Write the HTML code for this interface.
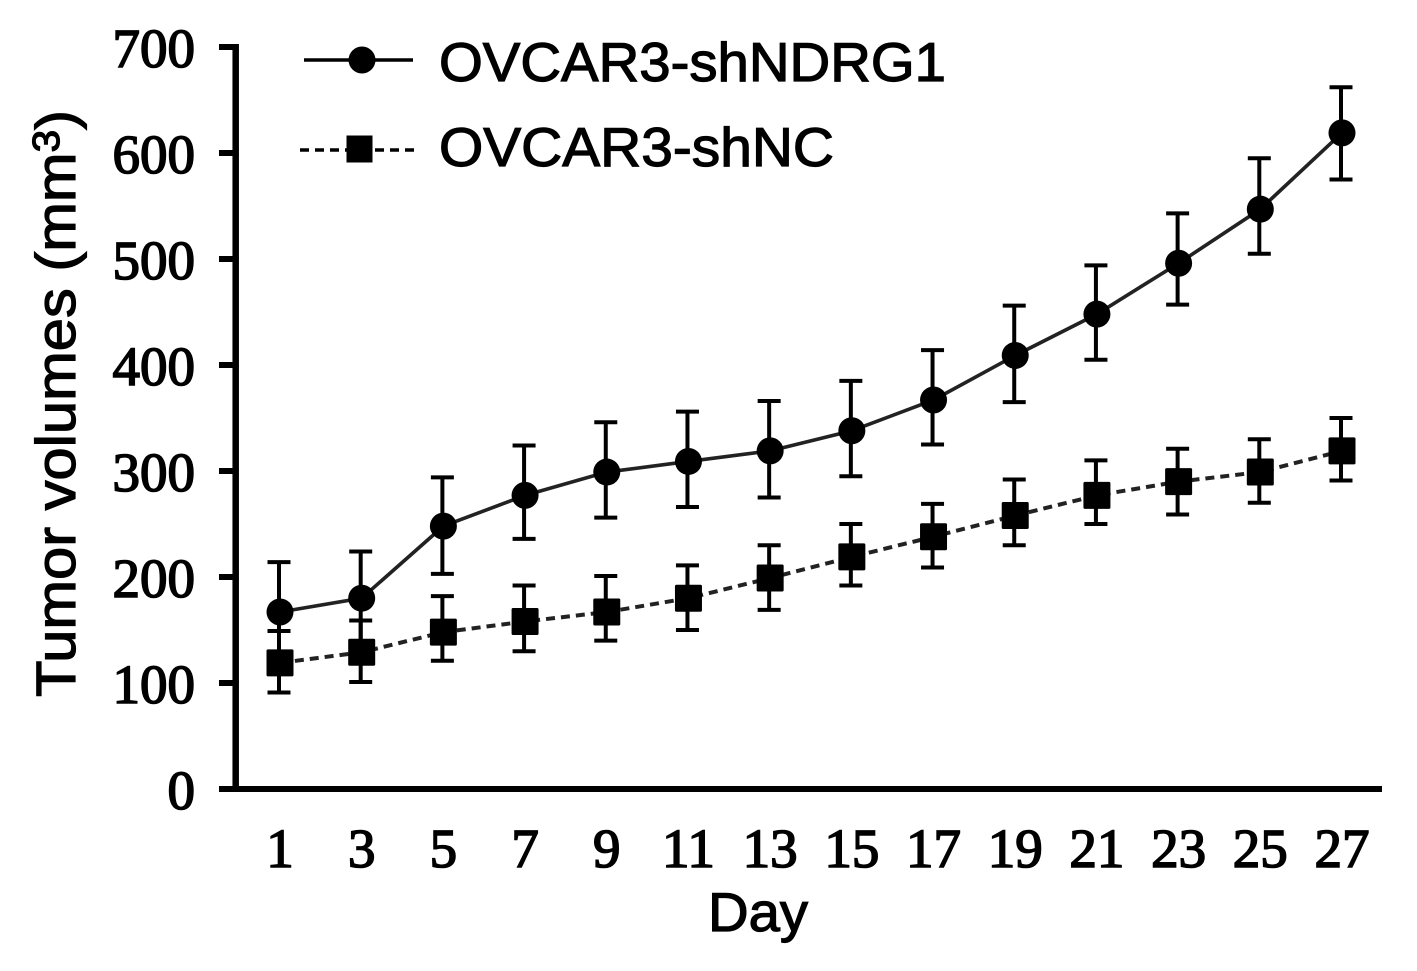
<!DOCTYPE html>
<html>
<head>
<meta charset="utf-8">
<style>
html,body{margin:0;padding:0;background:#fff;}
svg{display:block;}
.num{font-family:"Liberation Serif",serif;font-size:55px;fill:#000;stroke:#000;stroke-width:1.6px;}
.sans{font-family:"Liberation Sans",sans-serif;fill:#000;}
</style>
</head>
<body>
<svg id="chart" xmlns="http://www.w3.org/2000/svg" width="1417" height="971" viewBox="0 0 1417 971">
  <rect width="1417" height="971" fill="#fff"></rect>
  <g>
    <g>
      <line x1="304" y1="60" x2="413" y2="60" stroke="#000" stroke-width="3.6"></line>
      <circle cx="362" cy="60" r="13.5" fill="#000"></circle>
      <text class="sans" x="439" y="81" font-size="55" stroke="#000" stroke-width="1.2" textLength="507" lengthAdjust="spacingAndGlyphs">OVCAR3-shNDRG1</text>
    </g>
    <g>
      <line x1="300" y1="150" x2="418" y2="150" stroke="#000" stroke-width="3.6" stroke-dasharray="9 6"></line>
      <rect x="346.500" y="135.500" width="26" height="27" fill="#000"></rect>
      <text class="sans" x="439" y="166" font-size="55" stroke="#000" stroke-width="1.2" textLength="395" lengthAdjust="spacingAndGlyphs">OVCAR3-shNC</text>
    </g>
  </g>
  <text class="sans" transform="translate(75,697) rotate(-90)" x="0" y="0" font-size="56" stroke="#000" stroke-width="1.2" textLength="587" lengthAdjust="spacingAndGlyphs">Tumor volumes (mm<tspan font-size="38" dy="-16">3</tspan><tspan dy="16">)</tspan></text>
  <text class="sans" x="708" y="931" font-size="55" stroke="#000" stroke-width="1.2" textLength="100" lengthAdjust="spacingAndGlyphs">Day</text>
  <g id="axes"></g>
  <g id="marks"></g>
</svg>
<script>
const days = [1,3,5,7,9,11,13,15,17,19,21,23,25,27];
const yTicks = [0,100,200,300,400,500,600,700];
const shNdrg1Mean = [167,180,248,277,299,309,319,338,367,409,448,496,547,619];
const shNdrg1Upper = [214,224,294,324,346,356,366,385,414,456,494,543,595,662];
const shNdrg1Lower = [122,138,203,236,256,266,275,295,325,365,405,457,505,575];
const shNcMean = [119,129,148,158,167,180,199,219,238,258,277,290,299,319];
const shNcUpper = [149,159,182,192,201,211,230,250,269,292,310,321,330,350];
const shNcLower = [91,101,121,130,140,150,169,192,209,230,250,259,270,291];

const NS = 'http://www.w3.org/2000/svg';
const axes = document.getElementById('axes');
const marks = document.getElementById('marks');
function xScale(d){ return 280 + (d - days[0]) * (1342 - 280) / (days[days.length - 1] - days[0]); }
function yScale(v){ return 789 - v * (789 - 47) / yTicks[yTicks.length - 1]; }
function make(tag, attrs, parent){
  const el = document.createElementNS(NS, tag);
  for (const k in attrs) el.setAttribute(k, attrs[k]);
  parent.appendChild(el);
  return el;
}

const yAxisLine = make('line', {x1:235.7, y1:yScale(700)-3, x2:235.7, y2:yScale(0)+3, stroke:'#000', 'stroke-width':6.5}, axes);


const xAxisLine = make('line', {x1:219, y1:yScale(0), x2:1382, y2:yScale(0), stroke:'#000', 'stroke-width':6}, axes);



yTicks.forEach(function(v){
  const tick = make('line', {x1:219, y1:yScale(v), x2:236, y2:yScale(v), stroke:'#000', 'stroke-width':6}, axes);
  
  
  const label = make('text', {x:195, y:yScale(v)+20, 'text-anchor':'end', 'class':'num'}, axes);
  label.textContent = String(v);
  
  
});
days.forEach(function(d){
  const label = make('text', {x:xScale(d), y:867, 'text-anchor':'middle', 'class':'num'}, axes);
  label.textContent = String(d);
  
  
});

function drawErrors(upper, lower, name){
  days.forEach(function(d, i){
    const x = xScale(d) - 1;
    const yu = yScale(upper[i]);
    const yl = yScale(lower[i]);
    const stem = make('line', {x1:x, y1:yu, x2:x, y2:yl, stroke:'#000', 'stroke-width':4}, marks);
    
    
    const capTop = make('line', {x1:x-11.5, y1:yu, x2:x+11.5, y2:yu, stroke:'#000', 'stroke-width':4}, marks);
    
    
    const capBottom = make('line', {x1:x-11.5, y1:yl, x2:x+11.5, y2:yl, stroke:'#000', 'stroke-width':4}, marks);
    
    
  });
}
function linePoints(values){
  return values.map(function(v, i){ return xScale(days[i]) + ',' + yScale(v); }).join(' ');
}

drawErrors(shNdrg1Upper, shNdrg1Lower, 'shndrg1');
drawErrors(shNcUpper, shNcLower, 'shnc');

const lineA = make('polyline', {points:linePoints(shNdrg1Mean), fill:'none', stroke:'#222', 'stroke-width':3.6}, marks);


const lineB = make('polyline', {points:linePoints(shNcMean), fill:'none', stroke:'#222', 'stroke-width':4, 'stroke-dasharray':'9 6'}, marks);



shNdrg1Mean.forEach(function(v, i){
  const c = make('circle', {cx:xScale(days[i]), cy:yScale(v), r:13.5, fill:'#000'}, marks);
  
  
});
shNcMean.forEach(function(v, i){
  const s = make('rect', {x:xScale(days[i])-13.5, y:yScale(v)-13.5, width:27, height:27, rx:1.5, fill:'#000'}, marks);
  
  
});
</script>
</body>
</html>
